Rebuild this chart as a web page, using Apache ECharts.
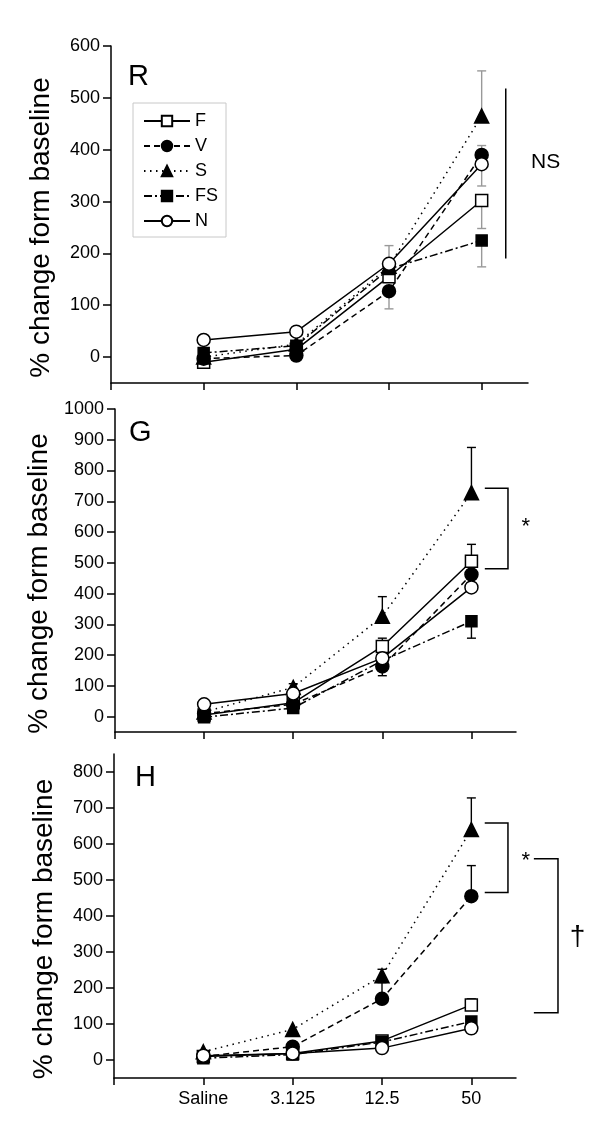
<!DOCTYPE html>
<html><head><meta charset="utf-8">
<script src="https://cdn.jsdelivr.net/npm/echarts@6/dist/echarts.min.js"></script>
<style>html,body{margin:0;padding:0;background:#fff}#c{width:600px;height:1137px}</style>
</head><body><div id="c"></div>
<script>
const FONT = '"Liberation Sans", Arial, sans-serif';
const categories = ['Saline', '3.125', '12.5', '50'];
const groups = ['F', 'V', 'S', 'FS', 'N'];
const panelLetters = ['R', 'G', 'H'];
const yTitle = '% change form baseline';

// Panel R
const rF  = [-10, 15, 155, 302];
const rV  = [-3, 3, 127, 390];
const rS  = [0, 25, 175, 465];
const rFS = [8, 22, 170, 225];
const rN  = [33, 49, 180, 372];
// Panel G
const gF  = [5, 45, 228, 505];
const gV  = [10, 40, 163, 462];
const gS  = [15, 95, 326, 728];
const gFS = [-2, 28, 182, 310];
const gN  = [40, 75, 190, 420];
// Panel H
const hF  = [10, 18, 53, 153];
const hV  = [10, 37, 170, 455];
const hS  = [23, 85, 234, 640];
const hFS = [5, 15, 50, 107];
const hN  = [12, 18, 33, 88];

// error bars: [category index, group, end value]
const rErr = [[2,'N',215],[2,'V',93],[3,'S',552],[3,'V',408],[3,'N',330],[3,'F',248],[3,'FS',174]];
const gErr = [[0,'N',52],[1,'S',107],[2,'S',390],[2,'F',255],[2,'V',133],[3,'S',875],[3,'F',560],[3,'FS',255]];
const hErr = [[2,'S',252],[2,'V',215],[3,'S',728],[3,'V',540],[3,'F',170]];

const yTicksR = [0, 100, 200, 300, 400, 500, 600];
const yTicksG = [0, 100, 200, 300, 400, 500, 600, 700, 800, 900, 1000];
const yTicksH = [0, 100, 200, 300, 400, 500, 600, 700, 800];

// annotations (data units): brackets [x1, x2, yTop, yBottom]
const rNSLine = [4.26, 518, 190];
const gBracket = [4.15, 4.41, 742, 481];
const hBracket1 = [4.15, 4.41, 658, 465];
const hBracket2 = [4.70, 4.97, 559, 131];
// texts: [grid, x, y, text, fontSize]
const annTexts = [[0, 4.69, 375, 'NS', 21], [1, 4.61, 618, '*', 22], [2, 4.61, 553, '*', 22], [2, 5.19, 342, '\u2020', 28]];

const styles = {
  F:  {symbol: 'rect', size: 12, fill: '#fff', type: 'solid'},
  V:  {symbol: 'circle', size: 13, fill: '#000', type: [6, 4]},
  S:  {symbol: 'triangle', size: 14, fill: '#000', type: [1.5, 4.5]},
  FS: {symbol: 'rect', size: 11, fill: '#000', type: [8, 3, 2, 3]},
  N:  {symbol: 'circle', size: 13, fill: '#fff', type: 'solid'}
};

const panels = [
  {vals: {F: rF, V: rV, S: rS, FS: rFS, N: rN}, err: rErr, errColor: '#999', ticks: yTicksR, max: 600},
  {vals: {F: gF, V: gV, S: gS, FS: gFS, N: gN}, err: gErr, errColor: '#000', ticks: yTicksG, max: 1000},
  {vals: {F: hF, V: hV, S: hS, FS: hFS, N: hN}, err: hErr, errColor: '#000', ticks: yTicksH, max: 850}
];

const grids = [
  {left: 111, right: 72, top: 46, bottom: 754},
  {left: 115, right: 84, top: 409, bottom: 405},
  {left: 114, right: 84, top: 754, bottom: 59}
];

const axisLine = {show: true, onZero: false, lineStyle: {color: '#000', width: 1.5}};
const xAxes = grids.map((g, i) => ({
  type: 'value', gridIndex: i, min: 0, max: 4.5,
  axisLine: axisLine,
  axisTick: {show: true, length: 7, customValues: [0, 1, 2, 3, 4], lineStyle: {color: '#000', width: 1.5}},
  axisLabel: {show: i === 2, customValues: [1, 2, 3, 4], margin: 12, color: '#000', fontSize: 18, fontFamily: FONT,
    formatter: v => categories[Math.round(v) - 1] || ''},
  splitLine: {show: false}
}));
const yAxes = panels.map((p, i) => ({
  type: 'value', gridIndex: i, min: -50, max: p.max,
  axisLine: axisLine,
  axisTick: {show: true, length: 8, customValues: p.ticks, lineStyle: {color: '#000', width: 1.5}},
  axisLabel: {customValues: p.ticks, margin: 11, color: '#000', fontSize: 18, fontFamily: FONT,
    formatter: v => String(v)},
  splitLine: {show: false},
  name: yTitle, nameLocation: 'middle', nameGap: 56,
  nameTextStyle: {fontSize: 28, color: '#000', fontFamily: FONT, padding: [0, 26, 0, 0]}
}));

function lineSeries(idx, name, data, borderColor) {
  const s = styles[name];
  return {
    type: 'line', name: name, xAxisIndex: idx, yAxisIndex: idx, z: 3,
    data: data.map((v, i) => [i + 1, v]),
    symbol: s.symbol, symbolSize: s.size, showAllSymbol: true,
    itemStyle: {color: s.fill, borderColor: borderColor, borderWidth: 1.5, opacity: 1},
    lineStyle: {color: '#000', width: 1.5, type: s.type},
    emphasis: {disabled: true}, animation: false
  };
}
function errSeries(idx, triples, lookup, color) {
  return {
    type: 'custom', xAxisIndex: idx, yAxisIndex: idx, z: 2, silent: true, clip: false, animation: false,
    data: triples.map(t => [t[0] + 1, lookup[t[1]][t[0]], t[2]]),
    encode: {x: 0, y: 1},
    renderItem: (params, api) => {
      const p0 = api.coord([api.value(0), api.value(1)]);
      const p1 = api.coord([api.value(0), api.value(2)]);
      return {type: 'group', children: [
        {type: 'line', shape: {x1: p0[0], y1: p0[1], x2: p1[0], y2: p1[1]}, style: {stroke: color, lineWidth: 1.4}},
        {type: 'line', shape: {x1: p1[0] - 4.5, y1: p1[1], x2: p1[0] + 4.5, y2: p1[1]}, style: {stroke: color, lineWidth: 1.4}}
      ]};
    }
  };
}

const series = [];
[1, 2, 0].forEach(i => {
  const p = panels[i];
  series.push(errSeries(i, p.err, p.vals, p.errColor));
  groups.forEach(g => series.push(lineSeries(i, g, p.vals[g], '#000')));
});

const chart = echarts.init(document.getElementById('c'), null, {renderer: 'canvas'});
chart.setOption({
  backgroundColor: '#fff',
  animation: false,
  grid: grids,
  xAxis: xAxes,
  yAxis: yAxes,
  legend: {
    data: groups, orient: 'vertical', left: 133, top: 103,
    padding: [9, 8, 7, 10], itemGap: 7, itemWidth: 46, itemHeight: 13, itemTextGap: 5,
    textStyle: {fontSize: 18, color: '#000', fontFamily: FONT},
    borderColor: '#c8c8c8', borderWidth: 1, selectedMode: false
  },
  series: series
});

// annotations
const px = (gi, x, y) => chart.convertToPixel({gridIndex: gi}, [x, y]);
const graphics = [];
const letterPos = [[128, 77], [129, 433], [135, 778]];
panelLetters.forEach((L, i) => graphics.push({type: 'text', x: letterPos[i][0], y: letterPos[i][1],
  style: {text: L, fontSize: 29, fontFamily: FONT, fill: '#000', align: 'left', verticalAlign: 'middle'}}));
{
  const a = px(0, rNSLine[0], rNSLine[1]), b = px(0, rNSLine[0], rNSLine[2]);
  graphics.push({type: 'line', shape: {x1: a[0], y1: a[1], x2: b[0], y2: b[1]}, style: {stroke: '#000', lineWidth: 1.5}});
}
[[1, gBracket], [2, hBracket1], [2, hBracket2]].forEach(([gi, br]) => {
  const p1 = px(gi, br[0], br[2]), p2 = px(gi, br[1], br[2]), p3 = px(gi, br[1], br[3]), p4 = px(gi, br[0], br[3]);
  graphics.push({type: 'polyline', shape: {points: [p1, p2, p3, p4]}, style: {stroke: '#000', lineWidth: 1.5, fill: null}});
});
annTexts.forEach(t => {
  const p = px(t[0], t[1], t[2]);
  graphics.push({type: 'text', x: p[0], y: p[1], style: {text: t[3], fontSize: t[4], fontFamily: FONT, fill: '#000', align: 'center', verticalAlign: 'middle'}});
});
chart.setOption({graphic: graphics});
</script>
</body></html>
